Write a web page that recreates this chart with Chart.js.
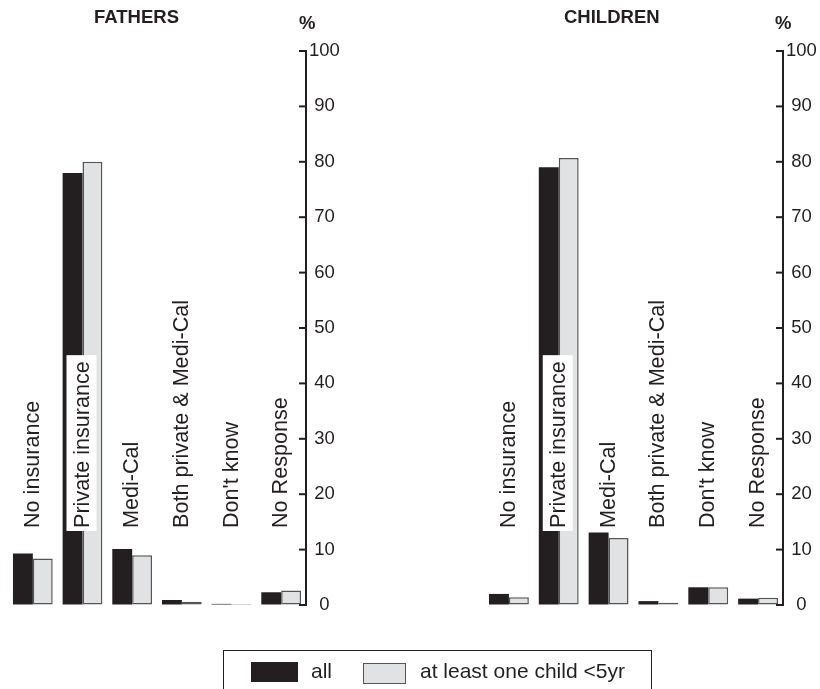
<!DOCTYPE html>
<html>
<head>
<meta charset="utf-8">
<script src="https://cdn.jsdelivr.net/npm/chart.js@4.4.1/dist/chart.umd.min.js"></script>
<style>
  html, body { margin: 0; padding: 0; background: #fff; }
  body { width: 820px; height: 689px; position: relative; overflow: hidden; font-family: "Liberation Sans", Arial, sans-serif; color: #231f20; }
  canvas { position: absolute; top: 0; }
  #legend { position: absolute; left: 223px; top: 650px; width: 429px; height: 60px; border: 1.5px solid #231f20; box-sizing: border-box; }
  .sw { position: absolute; box-sizing: border-box; }
  .lt { position: absolute; font-size: 21px; line-height: 21px; white-space: nowrap; }
</style>
</head>
<body>
<canvas id="c1" width="410" height="689" style="left:0px"></canvas>
<canvas id="c2" width="420" height="689" style="left:400px"></canvas>
<div id="legend"></div>
<div class="sw" style="left:251px;top:662px;width:47px;height:20px;background:#231f20;"></div>
<div class="lt" id="lg1" style="left:311px;top:660px;"></div>
<div class="sw" style="left:363px;top:663px;width:43px;height:21px;background:#e1e2e3;border:1.5px solid #555;"></div>
<div class="lt" id="lg2" style="left:420px;top:660px;"></div>
<script>
// ---- data ----
const categories = ["No insurance", "Private insurance", "Medi-Cal", "Both private & Medi-Cal", "Don't know", "No Response"];
const seriesNames = ["all", "at least one child <5yr"];
const panelTitles = ["FATHERS", "CHILDREN"];
const fathersAll = [9.3, 78.0, 10.1, 0.9, 0.2, 2.3];
const fathersUnder5 = [8.4, 80.0, 9.0, 0.6, 0.2, 2.6];
const childrenAll = [2.0, 79.0, 13.1, 0.7, 3.2, 1.15];
const childrenUnder5 = [1.4, 80.7, 12.1, 0.4, 3.2, 1.3];
const yTicks = [0, 10, 20, 30, 40, 50, 60, 70, 80, 90, 100];
const unitLabel = "%";

const INK = '#231f20';
const LIGHT = '#e1e2e3';
const LIGHT_EDGE = '#555555';
const FONT = '"Liberation Sans", Arial, Helvetica, sans-serif';

document.getElementById('lg1').textContent = seriesNames[0];
document.getElementById('lg2').textContent = seriesNames[1];

const overlay = {
  id: 'overlay',
  afterDraw(chart, args, opts) {
    const ctx = chart.ctx, ys = chart.scales.y, xs = chart.scales.x, area = chart.chartArea;
    ctx.save();
    // inward tick marks
    ctx.strokeStyle = INK; ctx.lineWidth = 2;
    ys.ticks.forEach(t => {
      const py = ys.getPixelForValue(t.value);
      ctx.beginPath(); ctx.moveTo(area.right - 7, py); ctx.lineTo(area.right, py); ctx.stroke();
    });
    // rotated category labels
    ctx.font = '21.6px ' + FONT;
    ctx.textBaseline = 'alphabetic';
    ctx.textAlign = 'left';
    const base = ys.getPixelForValue(0) - 77;
    const sets = chart.data.datasets;
    categories.forEach((c, i) => {
      const cx = xs.getPixelForValue(i);
      const w = ctx.measureText(c).width;
      const top = Math.max(...sets.map(d => d.data[i]));
      ctx.save();
      ctx.translate(cx + 6, base);
      ctx.rotate(-Math.PI / 2);
      if (ys.getPixelForValue(top) < base) {
        ctx.fillStyle = '#ffffff';
        ctx.fillRect(-3, -22, w + 9, 30);
      }
      ctx.fillStyle = INK;
      ctx.fillText(c, 0, 0);
      ctx.restore();
    });
    // title and unit
    ctx.font = 'bold 18.5px ' + FONT;
    ctx.fillStyle = INK;
    ctx.fillText(opts.title, opts.titleX, 23);
    ctx.fillText(unitLabel, opts.pctX, 29);
    ctx.restore();
  }
};

function makeChart(id, a, b, title, pad, titleX, pctX) {
  return new Chart(document.getElementById(id), {
    type: 'bar',
    data: {
      labels: categories,
      datasets: [
        { label: seriesNames[0], data: a, backgroundColor: INK, borderWidth: 0 },
        { label: seriesNames[1], data: b, backgroundColor: LIGHT, borderColor: LIGHT_EDGE, borderWidth: 1.5, borderSkipped: false }
      ]
    },
    options: {
      responsive: false,
      animation: false,
      devicePixelRatio: 1,
      layout: { padding: pad },
      datasets: { bar: { categoryPercentage: 0.8, barPercentage: 1.0 } },
      plugins: {
        legend: { display: false },
        tooltip: { enabled: false },
        title: { display: false },
        overlay: { title: title, titleX: titleX, pctX: pctX }
      },
      scales: {
        x: { display: false },
        y: {
          position: 'right',
          min: 0, max: 100,
          afterBuildTicks(scale) { scale.ticks = yTicks.map(v => ({ value: v })); },
          afterFit(scale) { scale.width = 36; },
          grid: { display: true, drawOnChartArea: false, drawTicks: false },
          border: { display: true, color: INK, width: 2 },
          ticks: { padding: 3, crossAlign: 'center', color: INK, font: { family: FONT, size: 18.5 } }
        }
      }
    },
    plugins: [overlay]
  });
}

makeChart('c1', fathersAll, fathersUnder5, panelTitles[0], { left: 8, right: 68, top: 51, bottom: 84 }, 94, 299);
makeChart('c2', childrenAll, childrenUnder5, panelTitles[1], { left: 84, right: 1, top: 51, bottom: 84 }, 164, 375);
</script>
</body>
</html>
